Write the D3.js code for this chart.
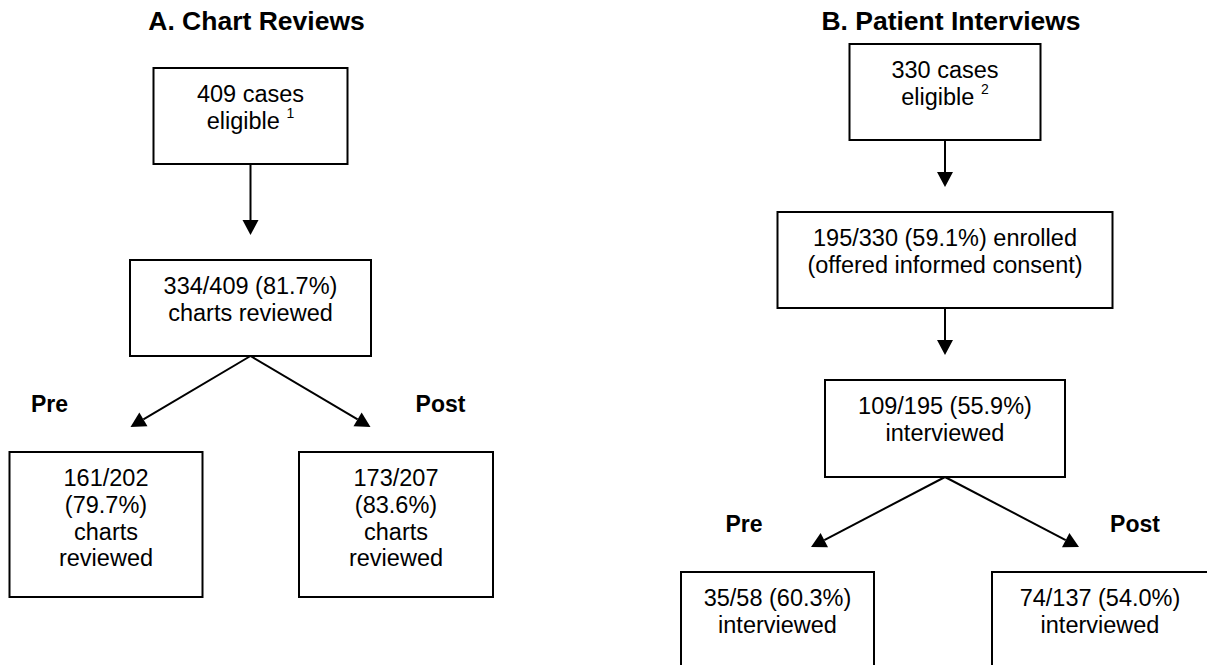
<!DOCTYPE html>
<html>
<head>
<meta charset="utf-8">
<script src="https://cdn.jsdelivr.net/npm/d3@7"></script>
<style>
  html, body { margin: 0; padding: 0; background: #fff; }
  svg { display: block; }
  text { font-family: Arial, "Liberation Sans", sans-serif; fill: #000; }
</style>
</head>
<body>
<svg id="chart"></svg>
<script>
// panel titles
const titles = ["A. Chart Reviews", "B. Patient Interviews"];
const footnotes = ["1", "2"];
const groups = ["Pre", "Post"];

// A. chart reviews
const reviewSteps = [
    ["409 cases", "eligible"],
    ["334/409 (81.7%)", "charts reviewed"]
];
const reviewSplit = [
    ["161/202", "(79.7%)", "charts", "reviewed"],
    ["173/207", "(83.6%)", "charts", "reviewed"]
];

// B. patient interviews
const interviewSteps = [
    ["330 cases", "eligible"],
    ["195/330 (59.1%) enrolled", "(offered informed consent)"],
    ["109/195 (55.9%)", "interviewed"]
];
const interviewSplit = [
    ["35/58 (60.3%)", "interviewed"],
    ["74/137 (54.0%)", "interviewed"]
];

const width = 1207, height = 665;

// layout for each panel
const panels = [
    {
        title: titles[0], note: footnotes[0], steps: reviewSteps, split: reviewSplit,
        cx: 250.5,
        stepWidths: [194, 241],
        stepY: d3.scaleLinear().domain([0, 1]).range([68, 260]),
        stepH: 96,
        splitTop: 452, splitH: 145,
        splitX: d3.scaleOrdinal().domain(groups).range([106, 396]),
        splitWidths: [193, 194],
        spread: 120
    },
    {
        title: titles[1], note: footnotes[1], steps: interviewSteps, split: interviewSplit,
        cx: 945,
        stepWidths: [191, 335, 240],
        stepY: d3.scaleLinear().domain([0, 1]).range([44, 212]),
        stepH: 96,
        splitTop: 572, splitH: 145,
        splitX: d3.scaleOrdinal().domain(groups).range([777.5, 1104]),
        splitWidths: [193, 224],
        spread: 134
    }
];

const fontSize = 23.5, lineStep = 26.8, firstLine = 34, gap = 25;

const svg = d3.select("#chart")
    .attr("width", width)
    .attr("height", height);

function drawArrow(g, x1, y1, x2, y2) {
    const ang = Math.atan2(y2 - y1, x2 - x1), L = 15, W = 8;
    const bx = x2 - L * Math.cos(ang), by = y2 - L * Math.sin(ang);
    g.append("path")
        .attr("d", d3.line()([[x1, y1], [bx, by]]))
        .attr("fill", "none")
        .attr("stroke", "#000")
        .attr("stroke-width", 2);
    g.append("path")
        .attr("d", d3.line()([
            [x2, y2],
            [bx + W * Math.sin(ang), by - W * Math.cos(ang)],
            [bx - W * Math.sin(ang), by + W * Math.cos(ang)]
        ]) + "Z")
        .attr("fill", "#000");
}

function drawBox(g, cx, top, w, h, lines, note, textX) {
    g.append("rect")
        .attr("x", cx - w / 2)
        .attr("y", top)
        .attr("width", w)
        .attr("height", h)
        .attr("fill", "#fff")
        .attr("stroke", "#000")
        .attr("stroke-width", 2);
    lines.forEach((line, i) => {
        const t = g.append("text")
            .attr("x", textX !== undefined ? textX : cx)
            .attr("y", top + firstLine + i * lineStep)
            .attr("text-anchor", "middle")
            .style("font-size", fontSize + "px")
            .text(line);
        if (note && i === lines.length - 1) {
            t.append("tspan").text(" ");
            t.append("tspan")
                .attr("dy", -11)
                .style("font-size", "14px")
                .text(note);
        }
    });
}

panels.forEach(p => {
    const g = svg.append("g");

    g.append("text")
        .attr("x", p.cx + 6)
        .attr("y", 30)
        .attr("text-anchor", "middle")
        .style("font-size", "26.5px")
        .style("font-weight", "bold")
        .text(p.title);

    const n = p.steps.length;

    // main column
    p.steps.forEach((lines, i) => {
        const top = p.stepY(i);
        const h = i === 2 ? p.stepH + 1 : p.stepH;
        drawBox(g, p.cx, top, p.stepWidths[i], h, lines, i === 0 ? p.note : null);
        if (i < n - 1) {
            drawArrow(g, p.cx, top + h, p.cx, p.stepY(i + 1) - gap);
        }
    });

    // pre / post split
    const lastBottom = p.stepY(n - 1) + p.stepH + (n === 3 ? 1 : 0);
    const tipY = p.splitTop - gap;
    groups.forEach((grp, j) => {
        const dir = j === 0 ? -1 : 1;
        drawArrow(g, p.cx, lastBottom, p.cx + dir * p.spread, tipY);
        g.append("text")
            .attr("x", p.cx + (j === 0 ? -201 : 190))
            .attr("y", tipY - 15)
            .attr("text-anchor", "middle")
            .style("font-size", "23px")
            .style("font-weight", "bold")
            .text(grp);
        // right box of panel B runs off the page; its text sits at x 1100
        const tx = (n === 3 && j === 1) ? 1100 : undefined;
        drawBox(g, p.splitX(grp), p.splitTop, p.splitWidths[j], p.splitH, p.split[j], null, tx);
    });
});
</script>
</body>
</html>
